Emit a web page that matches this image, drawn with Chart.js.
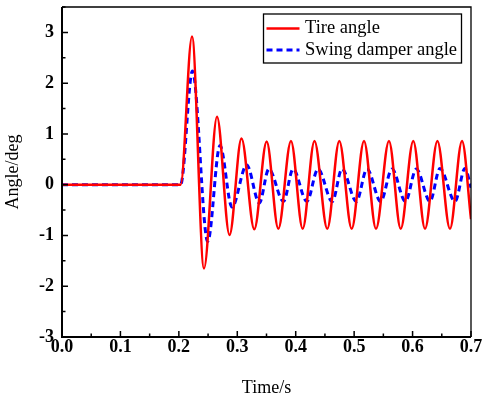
<!DOCTYPE html>
<html>
<head>
<meta charset="utf-8">
<script src="https://cdn.jsdelivr.net/npm/chart.js@4"></script>
<style>
    html, body { margin: 0; padding: 0; background: #fff; }
    #wrap { width: 483px; height: 399px; }
</style>
</head>
<body>
<div id="wrap"><canvas id="angleChart" width="483" height="399"></canvas></div>
<script>
var tireTime = [0, 0.203, 0.2225, 0.2430, 0.2653, 0.2867, 0.3072, 0.3291, 0.3503, 0.3702, 0.3919, 0.4119,
    0.4321, 0.4540, 0.4746, 0.4958, 0.5169, 0.5374, 0.5596, 0.5797, 0.6012, 0.6213, 0.6425, 0.6640, 0.6846, 0.7];
var tireAngle = [0, 0, 2.92, -1.65, 1.34, -0.99, 0.91, -0.88, 0.85, -0.87, 0.86, -0.87,
    0.86, -0.87, 0.86, -0.87, 0.86, -0.87, 0.86, -0.87, 0.86, -0.87, 0.86, -0.87, 0.86, -0.68];

// Swing damper angle (blue dashed)
var damperTime = [0, 0.203, 0.2233, 0.2494, 0.2704, 0.2909, 0.3161, 0.3377, 0.3540, 0.3790, 0.3955, 0.4190,
    0.4382, 0.4626, 0.4792, 0.5038, 0.5220, 0.5454, 0.5648, 0.5877, 0.6064, 0.6298, 0.6469, 0.6726, 0.6897, 0.7];
var damperAngle = [0, 0, 2.24, -1.12, 0.77, -0.44, 0.39, -0.36, 0.31, -0.33, 0.31, -0.33,
    0.31, -0.33, 0.31, -0.33, 0.31, -0.33, 0.31, -0.33, 0.31, -0.33, 0.32, -0.33, 0.32, -0.06];

var seriesNames = ['Tire angle', 'Swing damper angle'];
var xTickLabels = ['0.0', '0.1', '0.2', '0.3', '0.4', '0.5', '0.6', '0.7'];
var yTickLabels = ['-3', '-2', '-1', '0', '1', '2', '3'];

var serif = '"Liberation Serif", "Times New Roman", serif';

function toPoints(xs, ys) {
    return xs.map((x, i) => ({ x: x, y: ys[i] }));
}

function isWhole(v, step) {
    return Math.abs(v / step - Math.round(v / step)) < 1e-6;
}

// frame, inward ticks and the boxed legend
const framePlugin = {
    id: 'frame',
    afterDraw(chart) {
        const ctx = chart.ctx;
        const a = chart.chartArea;
        const xs = chart.scales.x;
        const ys = chart.scales.y;
        ctx.save();
        ctx.strokeStyle = '#000';

        // thin top/right border
        ctx.lineWidth = 1.3;
        ctx.beginPath();
        ctx.moveTo(a.left, a.top);
        ctx.lineTo(a.right, a.top);
        ctx.lineTo(a.right, a.bottom);
        ctx.stroke();

        // left/bottom axes
        ctx.lineWidth = 2;
        ctx.beginPath();
        ctx.moveTo(a.left, a.top);
        ctx.lineTo(a.left, a.bottom);
        ctx.lineTo(a.right, a.bottom);
        ctx.stroke();

        ctx.lineWidth = 1.5;
        ctx.beginPath();
        xs.ticks.forEach(t => {
            const px = xs.getPixelForValue(t.value);
            const len = isWhole(t.value, 0.1) ? 6 : 3.5;
            ctx.moveTo(px, a.bottom);
            ctx.lineTo(px, a.bottom - len);
        });
        ys.ticks.forEach(t => {
            const py = ys.getPixelForValue(t.value);
            const len = isWhole(t.value, 1) ? 6 : 3.5;
            ctx.moveTo(a.left, py);
            ctx.lineTo(a.left + len, py);
        });
        ctx.stroke();

        // legend box
        const lx = 263.5, ly = 14, lw = 198, lh = 49;
        ctx.fillStyle = '#fff';
        ctx.fillRect(lx, ly, lw, lh);
        ctx.lineWidth = 1.3;
        ctx.strokeRect(lx, ly, lw, lh);

        const ds = chart.data.datasets;
        const rows = [28.5, 50];
        ds.forEach((d, i) => {
            ctx.strokeStyle = d.borderColor;
            ctx.lineWidth = d.borderWidth;
            ctx.setLineDash(d.borderDash || []);
            ctx.beginPath();
            ctx.moveTo(lx + 3, rows[i]);
            ctx.lineTo(lx + 36, rows[i]);
            ctx.stroke();
            ctx.setLineDash([]);
            ctx.fillStyle = '#000';
            ctx.font = '18.5px ' + serif;
            ctx.textBaseline = 'middle';
            ctx.textAlign = 'left';
            ctx.fillText(d.label, lx + 41.5, rows[i]);
        });
        ctx.restore();
    }
};

const ctx = document.getElementById('angleChart').getContext('2d');
new Chart(ctx, {
    type: 'line',
    data: {
        datasets: [{
            label: seriesNames[0],
            data: toPoints(tireTime, tireAngle),
            borderColor: '#ff0000',
            borderWidth: 2.5,
            pointRadius: 0,
            fill: false,
            cubicInterpolationMode: 'monotone'
        }, {
            label: seriesNames[1],
            data: toPoints(damperTime, damperAngle),
            borderColor: '#0000ff',
            borderWidth: 3,
            borderDash: [6, 4],
            pointRadius: 0,
            fill: false,
            cubicInterpolationMode: 'monotone'
        }]
    },
    options: {
        responsive: false,
        animation: false,
        layout: { padding: { top: 7, right: 12, left: 0, bottom: 0 } },
        plugins: {
            legend: { display: false },
            tooltip: { enabled: false }
        },
        scales: {
            x: {
                type: 'linear',
                min: 0,
                max: 0.7,
                afterFit(scale) {
                    scale.height = 62;
                    scale.paddingLeft = 0;
                    scale.paddingRight = 0;
                },
                ticks: {
                    stepSize: 0.05,
                    padding: 0,
                    color: '#000',
                    font: { family: serif, size: 18, weight: 'bold' },
                    autoSkip: false,
                    maxRotation: 0,
                    callback: (v) => isWhole(v, 0.1) ? xTickLabels[Math.round(v * 10)] : ''
                },
                grid: { display: true, drawOnChartArea: false, drawTicks: false },
                border: { display: false },
                title: {
                    display: true,
                    text: 'Time/s',
                    color: '#000',
                    font: { family: serif, size: 18 },
                    padding: { top: 0, bottom: 0 }
                }
            },
            y: {
                type: 'linear',
                min: -3,
                max: 3.5,
                afterFit(scale) {
                    scale.width = 62;
                    scale.paddingTop = 0;
                    scale.paddingBottom = 0;
                },
                ticks: {
                    stepSize: 0.5,
                    padding: 8,
                    color: '#000',
                    font: { family: serif, size: 18, weight: 'bold' },
                    autoSkip: false,
                    callback: (v) => (isWhole(v, 1) && v <= 3) ? yTickLabels[Math.round(v) + 3] : ''
                },
                grid: { display: true, drawOnChartArea: false, drawTicks: false },
                border: { display: false },
                title: {
                    display: true,
                    text: 'Angle/deg',
                    color: '#000',
                    font: { family: serif, size: 18 },
                    padding: { top: 2, bottom: 0 }
                }
            }
        }
    },
    plugins: [framePlugin]
});
</script>
</body>
</html>
